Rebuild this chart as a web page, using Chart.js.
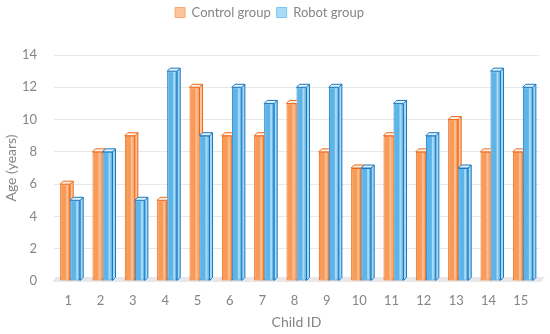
<!DOCTYPE html>
<html><head><meta charset="utf-8">
<script src="https://cdn.jsdelivr.net/npm/chart.js@4.4.1/dist/chart.umd.min.js"></script>
<style>html,body{margin:0;padding:0;background:#fff;}#wrap{width:550px;height:334px;}</style>
</head><body><div id="wrap"><canvas id="c" width="550" height="334"></canvas></div>
<script>
const categories = ['1','2','3','4','5','6','7','8','9','10','11','12','13','14','15'];
const controlGroup = [6,8,9,5,12,9,9,11,8,7,9,8,10,8,8];
const robotGroup = [5,8,5,13,9,12,11,12,12,7,11,9,7,13,12];
const yTicks = [0,2,4,6,8,10,12,14];

const FONT = 'Lato, "Open Sans", sans-serif';
const TXT = '#858585';
const DEPTH = 3;
const styles = [
  {front:'#f99b58', line:'#ee6718', side:'#fcc49c', top:'#fff1e6', stripe:'#fcbf93'},
  {front:'#5db4e8', line:'#1878c2', side:'#a6d9f5', top:'#e4f4fd', stripe:'#a9dbf6'}
];

function draw3d(ctx, el, s){
  const p = el.getProps(['x','y','base','width'], true);
  const l = p.x - p.width/2, r = p.x + p.width/2, t = Math.min(p.y,p.base), b = Math.max(p.y,p.base), d = DEPTH;
  ctx.fillStyle = s.stripe; ctx.fillRect(r-4, t+1, 2, b-t-2);
  ctx.lineWidth = 1; ctx.strokeStyle = s.line;
  ctx.beginPath(); ctx.moveTo(r,t); ctx.lineTo(r+d,t-d); ctx.lineTo(r+d,b-d); ctx.lineTo(r,b); ctx.closePath();
  ctx.fillStyle = s.side; ctx.fill(); ctx.stroke();
  ctx.beginPath(); ctx.moveTo(l,t); ctx.lineTo(l+d,t-d); ctx.lineTo(r+d,t-d); ctx.lineTo(r,t); ctx.closePath();
  ctx.fillStyle = s.top; ctx.fill(); ctx.stroke();
}

const bar3d = {
  id:'bar3d',
  beforeInit(chart){
    if (chart.legend){ const f = chart.legend.fit; chart.legend.fit = function(){ f.call(this); this.height = 55; }; }
  },
  beforeDatasetsDraw(chart){
    const ctx = chart.ctx, a = chart.chartArea, y0 = chart.scales.y.getPixelForValue(0);
    ctx.save();
    ctx.beginPath(); ctx.moveTo(a.left-2, y0+1); ctx.lineTo(a.right+2, y0+1); ctx.lineTo(a.right+6, y0-4); ctx.lineTo(a.left+2, y0-4); ctx.closePath();
    ctx.fillStyle = '#e8e8e8'; ctx.fill();
    ctx.restore();
  },
  afterDatasetsDraw(chart){
    const ctx = chart.ctx, m0 = chart.getDatasetMeta(0), m1 = chart.getDatasetMeta(1);
    for (let i=0;i<m0.data.length;i++){
      const a = m0.data[i], b = m1.data[i];
      const bp = b.getProps(['x','y','base','width'], true);
      ctx.save();
      ctx.beginPath(); ctx.rect(0,0,chart.width,chart.height);
      ctx.rect(bp.x-bp.width/2, bp.y, bp.width, bp.base-bp.y);
      ctx.clip('evenodd');
      draw3d(ctx, a, styles[0]);
      ctx.restore();
      ctx.save(); draw3d(ctx, b, styles[1]); ctx.restore();
    }
  }
};

new Chart(document.getElementById('c'), {
  type:'bar',
  data:{
    labels: categories,
    datasets:[
      {label:'Control group', data: controlGroup, backgroundColor: styles[0].front, borderColor: styles[0].line, borderWidth:1, borderSkipped:false},
      {label:'Robot group', data: robotGroup, backgroundColor: styles[1].front, borderColor: styles[1].line, borderWidth:1, borderSkipped:false}
    ]
  },
  options:{
    responsive:false, animation:false,
    layout:{padding:{left:0,right:11,top:0,bottom:0}},
    datasets:{bar:{categoryPercentage:0.62, barPercentage:1.0}},
    plugins:{
      legend:{position:'top', labels:{boxWidth:10, boxHeight:10, padding:6, color:TXT, font:{family:FONT, size:13},
        generateLabels(chart){
          return chart.data.datasets.map((ds,i)=>({text:ds.label, fillStyle:i?'#a6dcf7':'#fcc39a', strokeStyle:i?'#7cc8f0':'#f9a870', lineWidth:1, fontColor:TXT, datasetIndex:i, hidden:false}));
        }}},
      tooltip:{enabled:false}
    },
    scales:{
      x:{
        grid:{display:false, drawTicks:false}, border:{display:false},
        ticks:{color:TXT, font:{family:FONT,size:13}, padding:12, labelOffset:-2},
        title:{display:true, text:'Child ID', color:TXT, font:{family:FONT,size:14}, padding:{top:4,bottom:3}},
        afterFit(s){ s.height = 53; }
      },
      y:{
        min:0, max:14,
        afterBuildTicks(s){ s.ticks = yTicks.map(v=>({value:v})); },
        grid:{color:'#e8e8e8', drawTicks:false}, border:{display:false},
        ticks:{color:TXT, font:{family:FONT,size:13}, padding:17},
        title:{display:true, text:'Age (years)', color:TXT, font:{family:FONT,size:14}, padding:{top:3,bottom:4}},
        afterFit(s){ s.width = 54; }
      }
    }
  },
  plugins:[bar3d]
});
</script></body></html>
